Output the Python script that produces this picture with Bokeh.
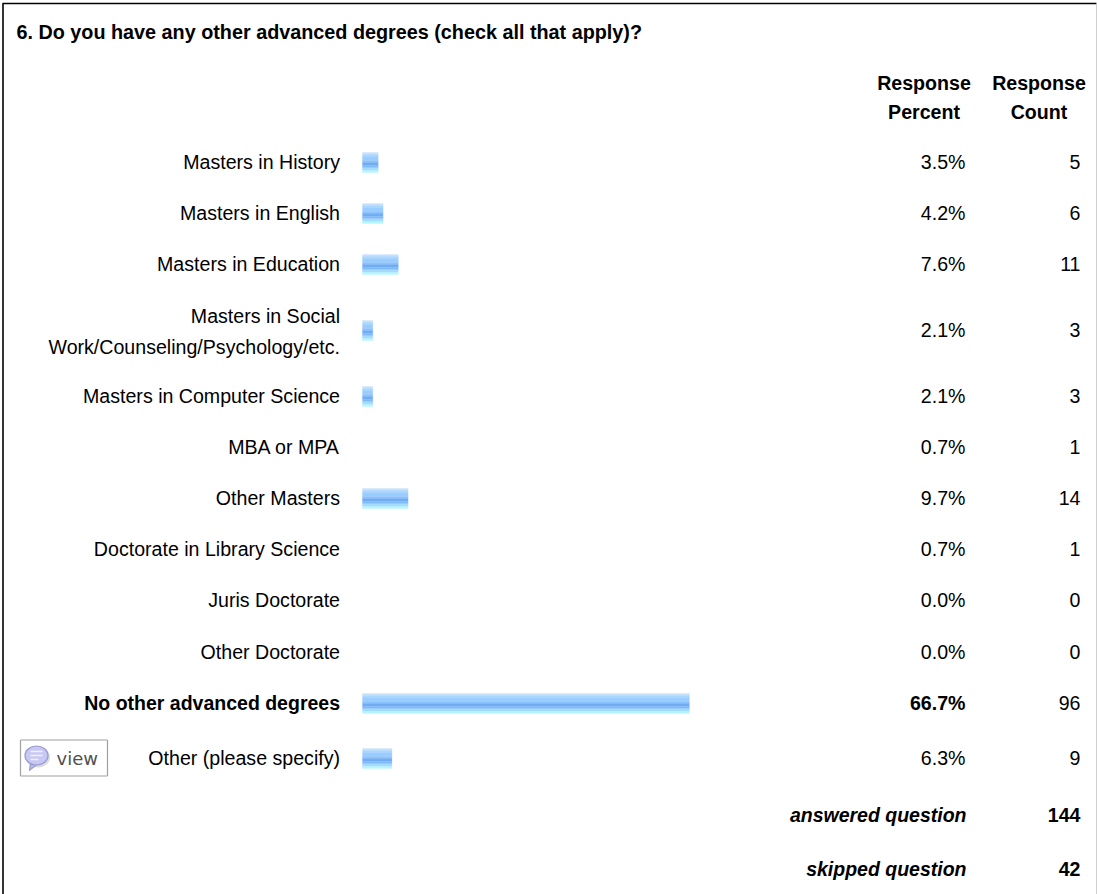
from bokeh.plotting import figure
from bokeh.models import Range1d, ColumnDataSource
from bokeh.core.properties import value
from bokeh.embed import file_html
from bokeh.resources import INLINE

title = "6. Do you have any other advanced degrees (check all that apply)?"
categories = ["Masters in History", "Masters in English", "Masters in Education",
              "Masters in Social\nWork/Counseling/Psychology/etc.", "Masters in Computer Science",
              "MBA or MPA", "Other Masters", "Doctorate in Library Science", "Juris Doctorate",
              "Other Doctorate", "No other advanced degrees", "Other (please specify)"]
percent = [3.5, 4.2, 7.6, 2.1, 2.1, 0.7, 9.7, 0.7, 0.0, 0.0, 66.7, 6.3]
counts = [5, 6, 11, 3, 3, 1, 14, 1, 0, 0, 96, 9]
# bar lengths as drawn in the picture (percent scale)
bar_lengths = [3.2, 4.2, 7.3, 2.1, 2.1, 0, 9.3, 0, 0, 0, 66.7, 6.0]
footer_labels = ["answered question", "skipped question"]
footer_values = [144, 42]

# layout (pixels)
W, H = 1097, 894
row_y = [162, 213, 264, 330, 396, 447, 498, 549, 600, 652, 703, 758]
foot_y = [815, 869]
PX_PER_PCT = 4.9
BAR_X0 = 362
bold_row = 10
FS = "19.6px"
FONT = value("Liberation Sans")
stripes = [(-10, -8, "#c6e2fb"), (-8, -6, "#a8d6ff"), (-6, -2, "#9acdff"), (-2, 0, "#8cc2fb"),
           (0, 3, "#70acf2"), (3, 5, "#80b9f8"), (5, 6, "#90c9ff"), (6, 8, "#a0dcff"), (8, 10, "#b4f5ff")]

p = figure(width=W, height=H, output_backend="svg", toolbar_location=None,
           x_range=Range1d(0, W), y_range=Range1d(H, 0), min_border=0,
           x_axis_type=None, y_axis_type=None, outline_line_color=None)
p.grid.visible = False
p.extra_x_ranges["pct"] = Range1d(-BAR_X0 / PX_PER_PCT, (W - BAR_X0) / PX_PER_PCT)

# frame
p.segment([2, 2.5], [3, 3], [1096, 2.5], [3, H], line_color="#000000", line_width=1.6)
p.segment([1096.5], [3], [1096.5], [H], line_color="#c4c4c4", line_width=1.6)

# bars
rows = [i for i, v in enumerate(bar_lengths) if v > 0]
for a, b, col in stripes:
    src = ColumnDataSource(dict(y=[row_y[i] + (a + b) / 2 for i in rows], r=[bar_lengths[i] for i in rows]))
    p.hbar(y="y", left=0, right="r", height=b - a, source=src, x_range_name="pct",
           fill_color=col, line_color=col, line_width=0.3)

def put(x, y, t, align="right", bold=False, italic=False, size=FS, color="#000000", font=FONT, lh=1.0):
    style = "bold italic" if bold and italic else "bold" if bold else "italic" if italic else "normal"
    p.text([x], [y], text=[t], text_align=align, text_baseline="middle", text_font=font,
           text_font_size=size, text_font_style=style, text_color=color, text_line_height=lh)

put(16, 31.5, title, "left", bold=True, size="19.8px")
put(923.5, 82, "Response", "center", bold=True)
put(923.5, 111, "Percent", "center", bold=True)
put(1038.5, 82, "Response", "center", bold=True)
put(1038.5, 111, "Count", "center", bold=True)

for i, (c, pc, n) in enumerate(zip(categories, percent, counts)):
    b = i == bold_row
    y = row_y[i] - 1
    put(339.5, y + (2 if "\n" in c else 0), c, bold=b, lh=1.45, size="19.5px" if b else FS)
    put(965, y, f"{pc:.1f}%", bold=b)
    put(1080, y, str(n))

for y, lab, v in zip(foot_y, footer_labels, footer_values):
    put(966, y - 1, lab, bold=True, italic=True, size="19.5px")
    put(1080, y - 1, str(v), bold=True)

# view button
p.segment([20, 20, 20, 107], [739.5, 775.5, 739.5, 739.5], [107, 107, 20, 107], [739.5, 775.5, 775.5, 775.5],
          line_color="#a0a0a0", line_width=1.2)
p.ellipse([37.5], [757], width=[24], height=[20], fill_color="#999999", fill_alpha=0.35, line_color=None)
p.patch([30, 29, 38], [762, 770, 763], fill_color="#b8b8ee", line_color="#8f8fc8")
p.ellipse([36], [755], width=[23], height=[19], fill_color="#c8c8f5", line_color="#9a9ad2", line_width=1.2)
p.segment([30, 30, 30], [751, 755, 759], [42, 42, 38], [751, 755, 759], line_color="#f0f0ff", line_width=1.5)
put(56, 758, "view", "left", size="18px", color="#505050", font=value("DejaVu Sans"))

open("out.html", "w").write(file_html(p, INLINE))
